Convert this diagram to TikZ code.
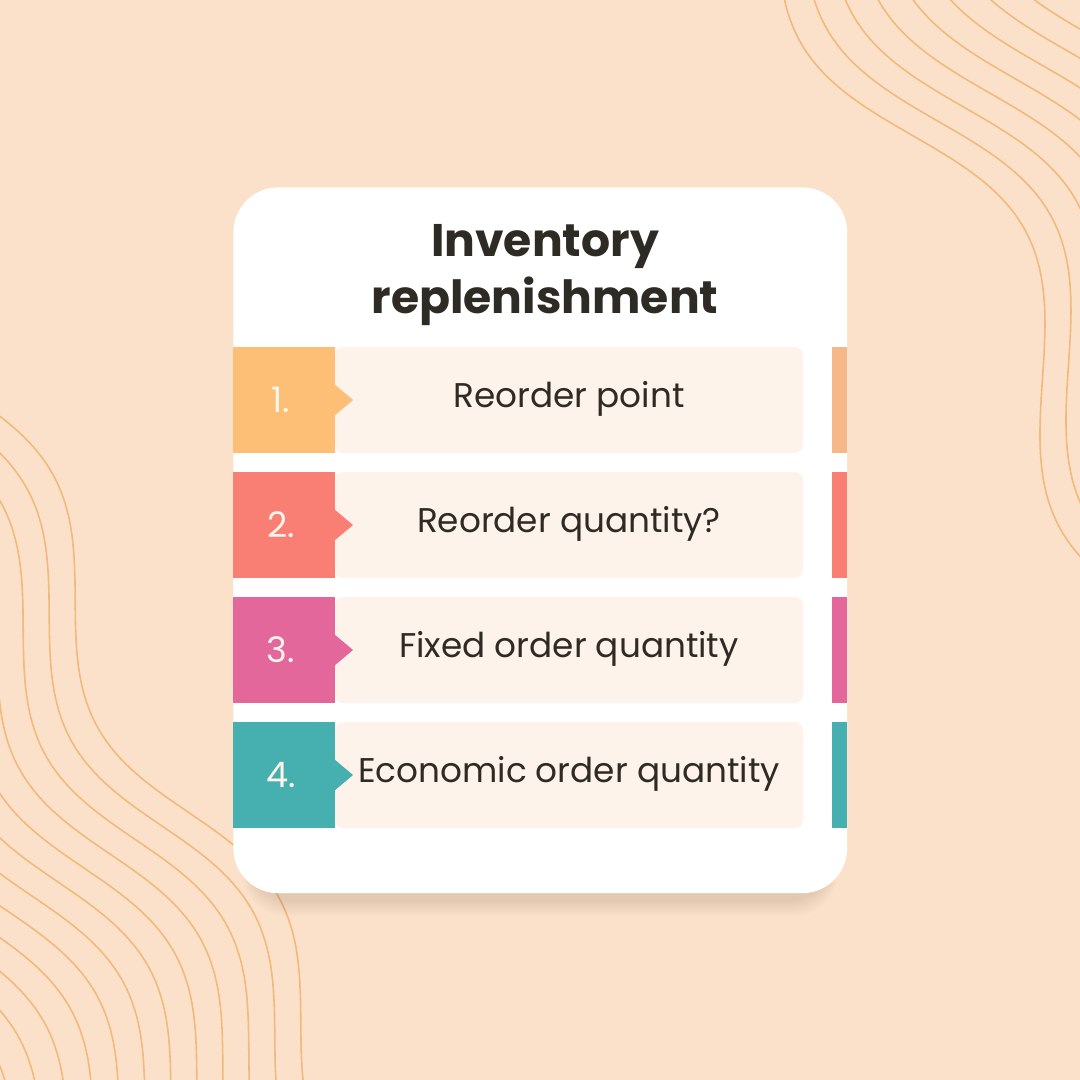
\documentclass[tikz,border=0pt]{standalone}
\usepackage{fontspec}
\setmainfont{Poppins}
\begin{document}
\begin{tikzpicture}[x=0.02cm,y=-0.02cm,
  wave/.style={draw=waveC,line width=0.9pt,smooth},
  rowtext/.style={font=\fontsize{19.5}{24}\selectfont,text=txtC,anchor=center},
  numtext/.style={font=\fontsize{20}{24}\selectfont,text=numC,anchor=center}]
\definecolor{bgC}{HTML}{FBE1CA}
\definecolor{waveC}{HTML}{F1B97C}
\definecolor{txtC}{HTML}{2E2A24}
\definecolor{numC}{HTML}{FFF4EA}
\definecolor{lightC}{HTML}{FEF3EA}
\definecolor{cA}{HTML}{FDBE75}
\definecolor{cAr}{HTML}{F6B888}
\definecolor{cB}{HTML}{F97E73}
\definecolor{cC}{HTML}{E4679B}
\definecolor{cD}{HTML}{46AFAF}
\fill[bgC] (0,0) rectangle (1080,1080);
\useasboundingbox (0,0) rectangle (1080,1080);
\begin{scope}
\clip (0,0) rectangle (1080,1080);
\foreach \k in {0,...,16}{
  \draw[wave] plot[domain=-200:1100,samples=70,variable=\s]
   ({-26*\k+0.47*\s+0.88*40*sin(0.75*\s+60)},{460+14*\k+0.88*\s-0.47*40*sin(0.75*\s+60)});
}
\foreach \k in {0,...,13}{
  \draw[wave] plot[domain=-200:1100,samples=70,variable=\s]
   ({840+26*\k+0.47*\s+0.88*55*sin(0.65*\s-100)},{-14*\k+0.88*\s-0.47*55*sin(0.65*\s-100)});
}
\end{scope}
% shadow
\foreach \i in {1,...,8}{
  \fill[black,opacity=0.012,rounded corners=0.9cm] ({250-\i},220) rectangle ({830+\i},{900+2*\i});
}
\node[draw=none,fill=white,rounded corners=0.9cm,minimum width=12.28cm,minimum height=14.12cm,anchor=north west] (card) at (233,187) {};
\node[font=\fontsize{26}{32}\selectfont\bfseries,text=txtC,align=center,anchor=center] (title) at (545,275) {Inventory\\replenishment};
\foreach \yy/\cc/\rc/\num/\txt [count=\i] in {347/cA/cAr/1./Reorder point,472/cB/cB/2./Reorder quantity?,597/cC/cC/3./Fixed order quantity,722/cD/cD/4./Economic order quantity}{
  \fill[lightC,rounded corners=0.16cm] (335,\yy) rectangle (803,{\yy+106});
  \fill[\cc] (233,\yy) rectangle (335,{\yy+106});
  \fill[\cc] (334,{\yy+37}) -- (353,{\yy+53}) -- (334,{\yy+69}) -- cycle;
  \fill[\rc] (832,\yy) rectangle (847,{\yy+106});
  \node[numtext] (n\i) at (281,{\yy+53}) {\num};
  \node[rowtext] (t\i) at (569,{\yy+52}) {\txt};
}
\end{tikzpicture}
\end{document}
